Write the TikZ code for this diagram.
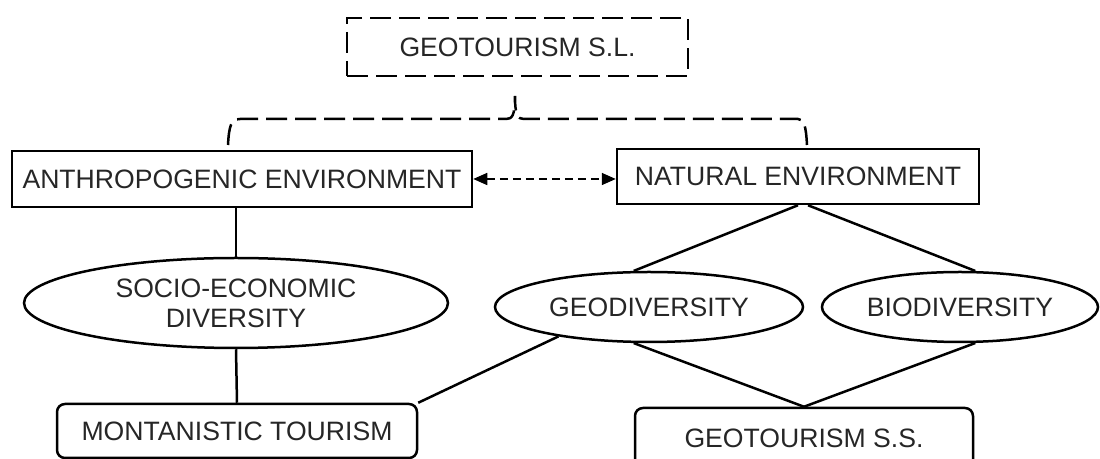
\documentclass[tikz,border=0pt]{standalone}
\usepackage{fontspec}
\setmainfont{Liberation Sans}
\usepackage{tikz}
\usetikzlibrary{shapes.geometric,arrows.meta}

\begin{document}
\begin{tikzpicture}[x=0.5pt,y=-0.5pt,
    box/.style={draw,line width=1.25pt,inner sep=0pt,align=center,
        font=\fontsize{13.3}{15}\selectfont,text=black!85},
    dashbox/.style={box,dash pattern=on 10.5pt off 4pt},
    oval/.style={box,ellipse},
    roundbox/.style={box,rounded corners=4pt},
    link/.style={line width=1.25pt},
    bracedash/.style={line width=1.25pt,dash pattern=on 10.5pt off 4pt}]
            \useasboundingbox (0,0) rectangle (1100,459);

            %%% NODES %%%
            \node[dashbox,minimum width=170.5pt,minimum height=29pt] (sl) at (517.5,47) {GEOTOURISM S.L.};
            \node[box,minimum width=230pt,minimum height=28pt] (anthro) at (242,179) {ANTHROPOGENIC ENVIRONMENT};
            \node[box,minimum width=181pt,minimum height=27.5pt] (nat) at (798,176.5) {NATURAL ENVIRONMENT};
            \node[oval,minimum width=212pt,minimum height=45pt] (socio) at (236,303) {SOCIO-ECONOMIC\\DIVERSITY};
            \node[oval,minimum width=154pt,minimum height=35pt] (geo) at (649,307) {GEODIVERSITY};
            \node[oval,minimum width=138pt,minimum height=35pt] (bio) at (960,307) {BIODIVERSITY};
            \node[roundbox,minimum width=180pt,minimum height=27pt] (mont) at (237,431) {MONTANISTIC TOURISM};
            \node[roundbox,minimum width=169pt,minimum height=30pt] (ss) at (804,438) {GEOTOURISM S.S.};

            %%% BRACE %%%
            \coordinate (bl) at (228,145);
            \coordinate (br) at (807,145);
            \coordinate (bt) at (515,96);
            \draw[bracedash] (bl) .. controls (229,126) and (231,119) .. (240,119) -- (506,119)
                .. controls (512,119) and (515,116) .. (bt)
                .. controls (515,116) and (518,119) .. (524,119) -- (798,119)
                .. controls (804,119) and (806,126) .. (br);

            %%% LINKS %%%
            \draw[line width=0.8pt,dash pattern=on 4pt off 2.5pt,
                {Triangle[length=7pt,width=6pt]}-{Triangle[length=7pt,width=6pt]}]
                (anthro.east) -- (anthro.east -| nat.west);
            \draw[link] (anthro.south -| socio.north) -- (socio.north);
            \draw[link] (socio.south) -- (mont.north);
            \draw[link] (nat.south) -- (geo.113);
            \draw[link] ([xshift=5pt]nat.south) -- (bio.67);
            \draw[link] (geo.198) -- (mont.north east);
            \draw[link] (geo.247) -- (ss.north);
            \draw[link] (bio.293) -- (ss.north);
        \end{tikzpicture}
\end{document}
